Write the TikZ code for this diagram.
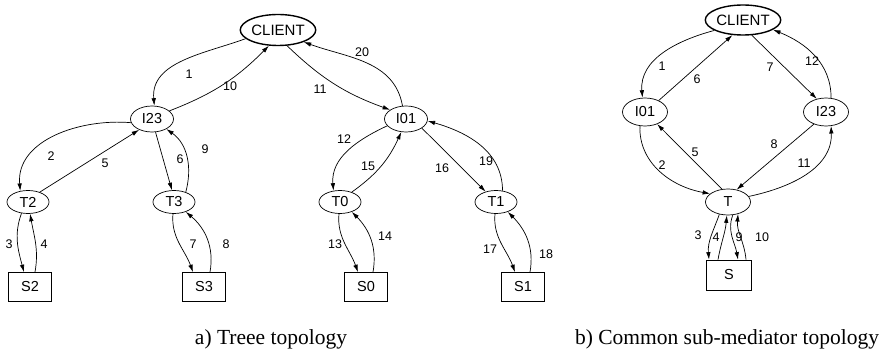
\documentclass[tikz,border=0pt]{standalone}
\usepackage{fontspec}
\setmainfont{Liberation Serif}
\newfontfamily\helv{Liberation Sans}
\usetikzlibrary{shapes.geometric,arrows.meta}

\tikzset{
  clientnode/.style={ellipse, draw, line width=1.4pt, minimum width=72pt, minimum height=31pt,
    inner sep=0pt, font=\helv\fontsize{15}{17}\selectfont},
  mednode/.style={ellipse, draw, line width=0.7pt, minimum width=43pt, minimum height=26pt,
    inner sep=0pt, font=\helv\fontsize{14.5}{16}\selectfont},
  tnode/.style={ellipse, draw, line width=0.7pt, minimum width=42pt, minimum height=23pt,
    inner sep=0pt, font=\helv\fontsize{14.5}{16}\selectfont},
  srcbox/.style={rectangle, draw, line width=0.7pt, minimum width=43pt, minimum height=29pt,
    inner sep=0pt, font=\helv\fontsize{14.5}{16}\selectfont},
  lbl/.style={inner sep=0pt, font=\helv\fontsize{12.5}{14}\selectfont},
  caption/.style={anchor=base, inner sep=0pt, font=\fontsize{21.5}{24}\selectfont},
  msg/.style={draw, line width=0.7pt, -{Latex[length=7.5pt,width=4.5pt]}},
}

\begin{document}
\begin{tikzpicture}[x=1pt,y=1pt]
\useasboundingbox (0,0) rectangle (891,356);

% ---------- a) tree of mediators ----------
\node[clientnode] (ca) at (278,326) {CLIENT};
\node[mednode] (i23a) at (152,237) {I23};
\node[mednode] (i01a) at (406,237) {I01};
\node[tnode] (t2) at (28,154) {T2};
\node[tnode] (t3) at (174,154) {T3};
\node[tnode] (t0) at (340,154) {T0};
\node[tnode] (t1) at (496,154) {T1};
\node[srcbox] (s2) at (30,69) {S2};
\node[srcbox] (s3) at (204,69) {S3};
\node[srcbox] (s0) at (366,69) {S0};
\node[srcbox] (s1) at (523,69) {S1};

\draw[msg] (ca.195) to[out=200, in=95] (i23a.80);
\draw[msg] (i23a.25) to[bend right=12] (ca.240);
\draw[msg] (ca.-60) to[bend right=12] (i01a.150);
\draw[msg] (i01a.105) to[out=100, in=-20] (ca.-25);

\draw[msg] (i23a.190) to[out=175, in=95] (t2.125);
\draw[msg] (t2.40) -- (i23a.220);
\draw[msg] (i23a.285) -- (t3.100);
\draw[msg] (t3.40) to[out=75, in=-35] (i23a.-35);

\draw[msg] (t2.240) to[out=250, in=105] ([xshift=-6pt]s2.north);
\draw[msg] ([xshift=5pt]s2.north) to[out=80, in=-80] (t2.-80);
\draw[msg] (t3.265) to[out=265, in=110] ([xshift=-11pt]s3.north);
\draw[msg] ([xshift=6pt]s3.north) to[out=80, in=-40] (t3.-40);

\draw[msg] (i01a.200) to[out=205, in=95] (t0.120);
\draw[msg] (t0.40) to[bend right=15] (i01a.-110);
\draw[msg] (i01a.-30) -- (t1.135);
\draw[msg] (t1.60) to[out=90, in=-16] (i01a.-5);

\draw[msg] (t0.265) to[out=265, in=110] ([xshift=-8pt]s0.north);
\draw[msg] ([xshift=7pt]s0.north) to[out=80, in=-45] (t0.-40);
\draw[msg] (t1.265) to[out=265, in=110] ([xshift=-8pt]s1.north);
\draw[msg] ([xshift=7pt]s1.north) to[out=80, in=-45] (t1.-40);

\node[lbl] (la1) at (189,282) {1};
\node[lbl] (la10) at (230,270) {10};
\node[lbl] (la11) at (320,267) {11};
\node[lbl] (la20) at (362,304) {20};
\node[lbl] (la2) at (51,200) {2};
\node[lbl] (la5) at (105,193) {5};
\node[lbl] (la6) at (180,197) {6};
\node[lbl] (la9) at (205,207) {9};
\node[lbl] (la3) at (9,112) {3};
\node[lbl] (la4) at (44,112) {4};
\node[lbl] (la7) at (193,112) {7};
\node[lbl] (la8) at (226,112) {8};
\node[lbl] (la12) at (344,217) {12};
\node[lbl] (la15) at (368,190) {15};
\node[lbl] (la16) at (442,188) {16};
\node[lbl] (la19) at (486,195) {19};
\node[lbl] (la13) at (335,112) {13};
\node[lbl] (la14) at (385,120) {14};
\node[lbl] (la17) at (490,107) {17};
\node[lbl] (la18) at (546,102) {18};

\node[caption] (capa) at (271,11.5) {a) Treee topology};

% ---------- b) common sub-mediator ----------
\node[clientnode, minimum width=73pt, minimum height=30pt] (cb) at (743,336) {CLIENT};
\node[mednode, minimum width=45pt, minimum height=28pt] (i01b) at (645,244) {I01};
\node[mednode, minimum width=45pt, minimum height=28pt] (i23b) at (826,244) {I23};
\node[tnode, minimum width=45pt, minimum height=26pt] (t) at (728,154) {T};
\node[srcbox, minimum width=45pt, minimum height=30pt] (s) at (729,81) {S};

\draw[msg] (cb.200) to[out=195, in=95] (i01b.100);
\draw[msg] (i01b.40) -- (cb.235);
\draw[msg] (cb.-60) -- (i23b.125);
\draw[msg] (i23b.70) to[out=90, in=-22] (cb.-18);

\draw[msg] (i01b.-110) to[out=268, in=170] (t.155);
\draw[msg] (t.115) -- (i01b.-45);
\draw[msg] (i23b.-135) -- (t.55);
\draw[msg] (t.15) to[out=12, in=-88] (i23b.-70);

\draw[msg] (t.235) to[out=250, in=95] ([xshift=-20pt]s.north);
\draw[msg] ([xshift=-11pt]s.north) to[out=80, in=-95] (t.265);
\draw[msg] (t.-70) to[out=250, in=100] ([xshift=9pt]s.north);
\draw[msg] ([xshift=17pt]s.north) to[out=95, in=-95] (t.-50);

\node[lbl] (lb1) at (662,290) {1};
\node[lbl] (lb6) at (697,277) {6};
\node[lbl] (lb7) at (770,289) {7};
\node[lbl] (lb12) at (812,295) {12};
\node[lbl] (lb2) at (662,191) {2};
\node[lbl] (lb5) at (695,204) {5};
\node[lbl] (lb8) at (774,212) {8};
\node[lbl] (lb11) at (804,193) {11};
\node[lbl] (lb3) at (698,121) {3};
\node[lbl] (lb4) at (716,119) {4};
\node[lbl] (lb9) at (739,119) {9};
\node[lbl] (lb10) at (762,119) {10};

\node[caption] (capb) at (727,11.5) {b) Common sub-mediator topology};
\end{tikzpicture}
\end{document}
